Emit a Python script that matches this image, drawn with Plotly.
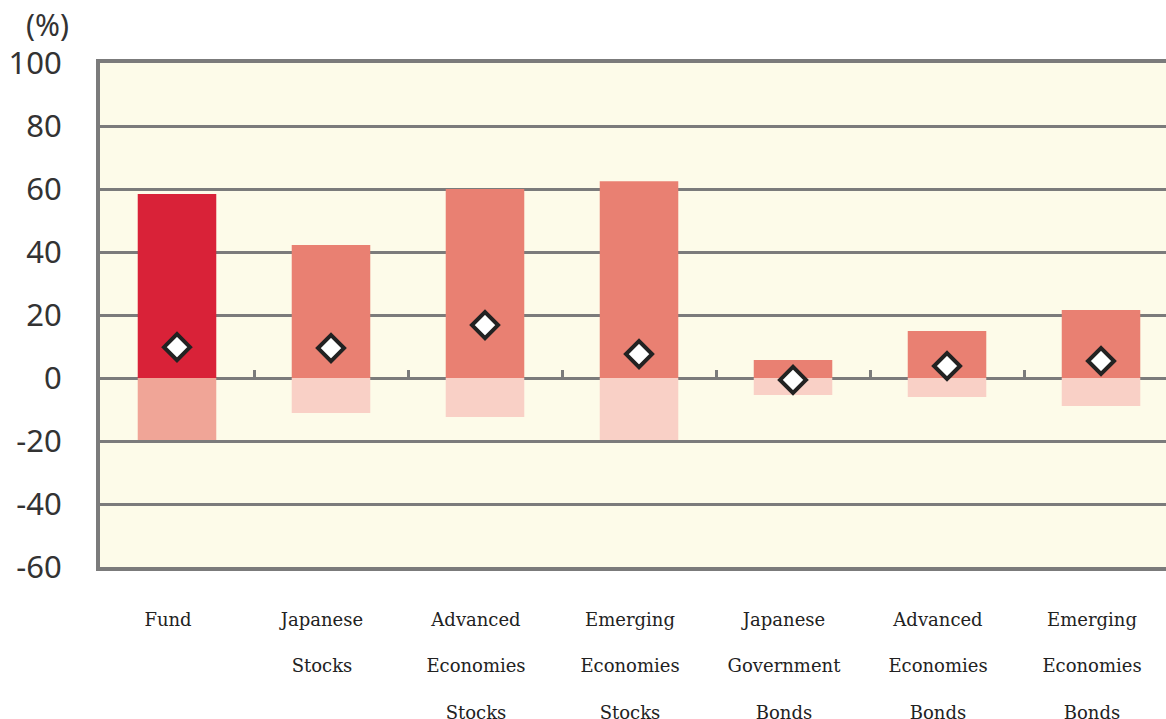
import plotly.graph_objects as go

categories = ["Fund", "Japanese<br><br>Stocks", "Advanced<br><br>Economies<br><br>Stocks",
              "Emerging<br><br>Economies<br><br>Stocks", "Japanese<br><br>Government<br><br>Bonds",
              "Advanced<br><br>Economies<br><br>Bonds", "Emerging<br><br>Economies<br><br>Bonds"]
upper = [58.4, 42.2, 60.0, 62.5, 5.7, 14.9, 21.6]
lower = [-19.7, -11.1, -12.4, -19.7, -5.4, -6.0, -8.9]
average = [9.8, 9.5, 16.8, 7.6, -0.6, 3.8, 5.4]
y_ticks = [100, 80, 60, 40, 20, 0, -20, -40, -60]
y_labels = ["100", "80", "60", "40", "20", "0", "-20", "-40", "-60"]

pos = list(range(len(categories)))
upper_colors = ["#D92238"] + ["#E98072"] * (len(categories) - 1)
lower_colors = ["#F0A597"] + ["#F9D0C6"] * (len(categories) - 1)

GRID = "#7b7b7b"
x_range = [-0.5, 6.422]

fig = go.Figure()
fig.add_trace(go.Bar(x=pos, y=upper, width=0.51, marker=dict(color=upper_colors, line_width=0)))
fig.add_trace(go.Bar(x=pos, y=lower, width=0.51, marker=dict(color=lower_colors, line_width=0)))
# diamonds drawn on the overlay axis that also carries the small ticks on the zero line
fig.add_trace(go.Scatter(x=pos, y=average, mode="markers", xaxis="x2", yaxis="y",
                         marker=dict(symbol="diamond", size=20, color="white",
                                     line=dict(color="#222222", width=4))))

fig.update_layout(
    width=1166, height=719,
    barmode="relative",
    showlegend=False,
    paper_bgcolor="white",
    plot_bgcolor="#FDFBE9",
    margin=dict(l=100, r=0, t=63, b=152, autoexpand=False),
    xaxis=dict(range=x_range, tickvals=pos, ticktext=categories, ticks="",
               showgrid=False, zeroline=False, showline=True, linecolor=GRID,
               linewidth=4, mirror=True, ticklabelstandoff=33, ticklabelshift=-9,
               automargin=False,
               tickfont=dict(family="DejaVu Serif", size=18, color="#222222")),
    xaxis2=dict(range=x_range, overlaying="x", anchor="free", position=0.375, side="top",
                tickvals=[p + 0.5 for p in pos[:-1]], ticks="outside", ticklen=8,
                tickwidth=3, tickcolor=GRID, showticklabels=False, showgrid=False,
                zeroline=False, showline=False, automargin=False),
    yaxis=dict(range=[-60, 100], tickvals=y_ticks, ticktext=y_labels, ticks="", showgrid=True,
               gridcolor=GRID, gridwidth=3, zeroline=True, zerolinecolor=GRID,
               zerolinewidth=3, showline=True, linecolor=GRID, linewidth=4,
               ticklabelstandoff=28, automargin=False,
               tickfont=dict(family="Noto Sans", size=31, color="#333333")),
    annotations=[dict(text="(%)", x=-0.049, y=1.076, xref="paper", yref="paper",
                      xanchor="center", yanchor="middle", showarrow=False,
                      font=dict(family="Noto Sans", size=30, color="#333333"))],
)

# drop the default page margin so the figure sits at the window's corner
fig.write_html("out.html", config={"displayModeBar": False},
               post_script="document.body.style.margin='0';document.body.style.overflow='hidden';")
